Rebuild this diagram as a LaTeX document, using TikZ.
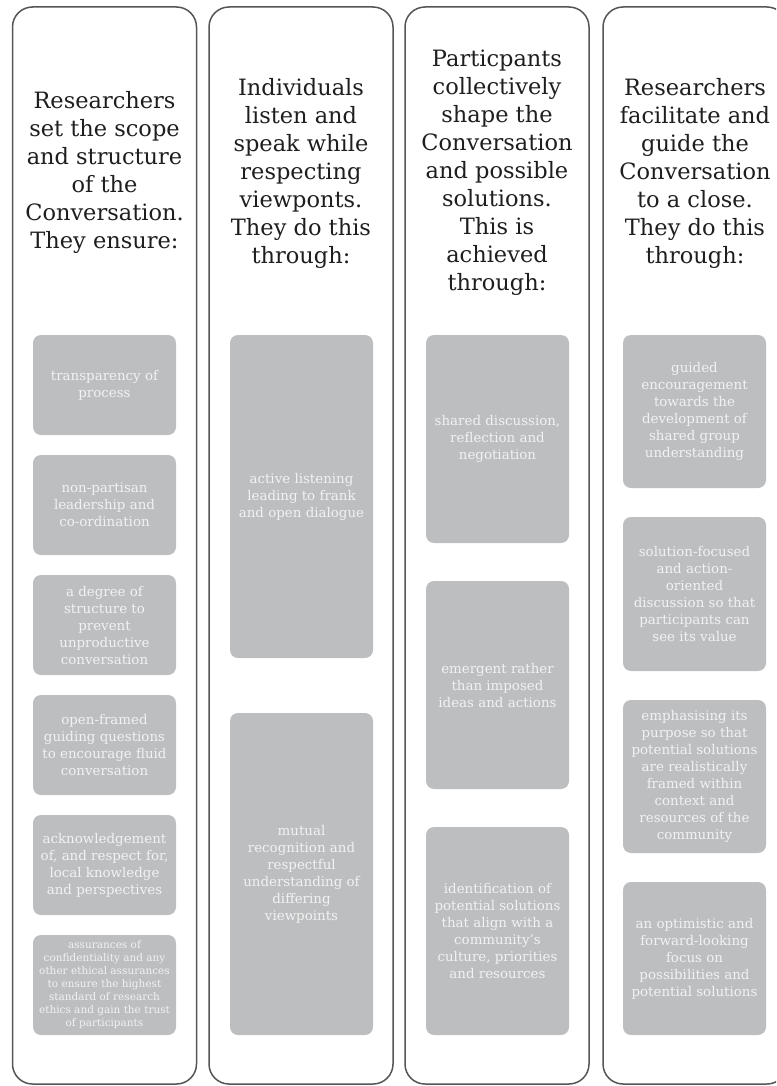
\documentclass[tikz,border=0pt]{standalone}
\usepackage{fontspec}
\setmainfont{DejaVu Serif}
\definecolor{boxgray}{HTML}{BDBEC0}
\definecolor{boxtext}{HTML}{F2F2F2}
\definecolor{edgegray}{HTML}{555555}
\definecolor{headtext}{HTML}{1E1E1E}
\begin{document}
\begin{tikzpicture}[x=1pt,y=-1pt,
  colbox/.style={draw=edgegray, line width=1.5pt, rounded corners=20pt, minimum width=184pt, minimum height=1077pt, inner sep=0pt},
  item/.style={fill=boxgray, rounded corners=8pt, minimum width=143pt, inner sep=0pt, text=boxtext, align=center, font=\fontsize{13.4}{17}\selectfont},
  smallitem/.style={item, font=\fontsize{10.5}{13}\selectfont},
  head/.style={align=center, text=headtext, font=\fontsize{22.5}{28}\selectfont}]
\useasboundingbox (0,0) rectangle (776,1086);
\clip (0,0) rectangle (776,1086);
% columns
\node[colbox] (c1) at (104.5,545.5) {};
\node[colbox] (c2) at (301,545.5) {};
\node[colbox] (c3) at (497,545.5) {};
\node[colbox] (c4) at (695,545.5) {};
% headers
\node[head] (h1) at (104.5,172) {Researchers\\set the scope\\and structure\\of the\\Conversation.\\They ensure:};
\node[head] (h2) at (301,173) {Individuals\\listen and\\speak while\\respecting\\viewponts.\\They do this\\through:};
\node[head] (h3) at (497,173) {Particpants\\collectively\\shape the\\Conversation\\and possible\\solutions.\\This is\\achieved\\through:};
\node[head] (h4) at (695,173) {Researchers\\facilitate and\\guide the\\Conversation\\to a close.\\They do this\\through:};
% column 1
\node[item, minimum height=100pt] (a1) at (104.5,385) {transparency of\\process};
\node[item, minimum height=100pt] (a2) at (104.5,505) {non-partisan\\leadership and\\co-ordination};
\node[item, minimum height=100pt] (a3) at (104.5,625) {a degree of\\structure to\\prevent\\unproductive\\conversation};
\node[item, minimum height=100pt] (a4) at (104.5,745) {open-framed\\guiding questions\\to encourage fluid\\conversation};
\node[item, minimum height=100pt] (a5) at (104.5,865) {acknowledgement\\of, and respect for,\\local knowledge\\and perspectives};
\node[smallitem, minimum height=100pt] (a6) at (104.5,985) {assurances of\\confidentiality and any\\other ethical assurances\\to ensure the highest\\standard of research\\ethics and gain the trust\\of participants};
% column 2
\node[item, minimum height=323pt] (b1) at (301.5,496.5) {active listening\\leading to frank\\and open dialogue};
\node[item, minimum height=322pt] (b2) at (301.5,874) {mutual\\recognition and\\respectful\\understanding of\\differing\\viewpoints};
% column 3
\node[item, minimum height=208pt] (d1) at (497.5,439) {shared discussion,\\reflection and\\negotiation};
\node[item, minimum height=208pt] (d2) at (497.5,685) {emergent rather\\than imposed\\ideas and actions};
\node[item, minimum height=208pt] (d3) at (497.5,931) {identification of\\potential solutions\\that align with a\\community's\\culture, priorities\\and resources};
% column 4
\node[item, minimum height=153pt] (e1) at (694.5,411.5) {guided\\encouragement\\towards the\\development of\\shared group\\understanding};
\node[item, minimum height=154pt] (e2) at (694.5,594) {solution-focused\\and action-\\oriented\\discussion so that\\participants can\\see its value};
\node[item, minimum height=153pt] (e3) at (694.5,776.5) {emphasising its\\purpose so that\\potential solutions\\are realistically\\framed within\\context and\\resources of the\\community};
\node[item, minimum height=153pt] (e4) at (694.5,958.5) {an optimistic and\\forward-looking\\focus on\\possibilities and\\potential solutions};
\end{tikzpicture}
\end{document}
